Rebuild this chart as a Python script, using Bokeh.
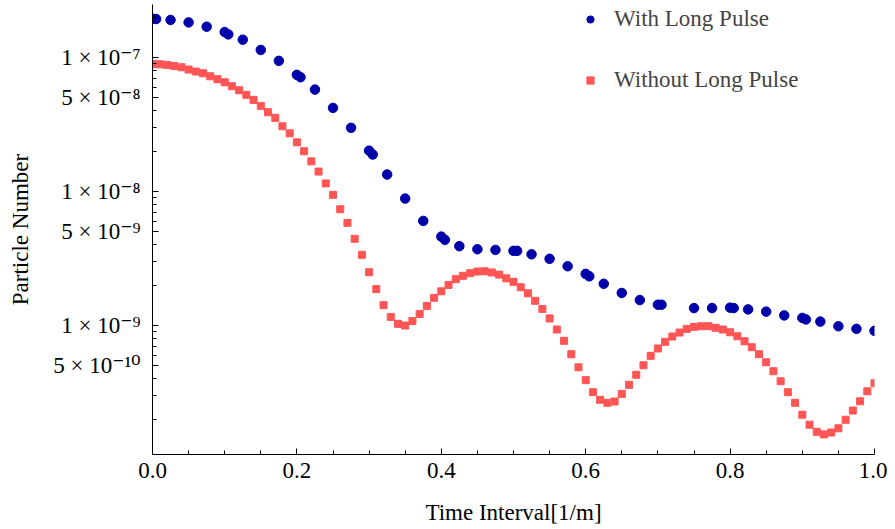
from bokeh.plotting import figure
from bokeh.models import (FixedTicker, CustomJSTickFormatter, NumeralTickFormatter,
                          Legend, LegendItem, Range1d)
from bokeh.embed import file_html
from bokeh.resources import INLINE

# ---------------- data ----------------
with_t = [0.0, 0.005, 0.025, 0.05, 0.075, 0.1, 0.105, 0.125, 0.15, 0.175,
          0.2, 0.205, 0.225, 0.25, 0.275, 0.3, 0.305, 0.325, 0.35, 0.375,
          0.4, 0.405, 0.425, 0.45, 0.475, 0.5, 0.505, 0.525, 0.55, 0.575,
          0.6, 0.605, 0.625, 0.65, 0.675, 0.7, 0.705, 0.75, 0.775,
          0.8, 0.805, 0.825, 0.85, 0.875, 0.9, 0.905, 0.925, 0.95, 0.975, 1.0]
with_n = [1.95e-7, 1.94e-7, 1.91e-7, 1.83e-7, 1.70e-7, 1.55e-7, 1.49e-7, 1.36e-7, 1.14e-7, 9.45e-8,
          7.43e-8, 7.13e-8, 5.77e-8, 4.21e-8, 2.99e-8, 2.02e-8, 1.89e-8, 1.34e-8, 8.87e-9, 6.04e-9,
          4.61e-9, 4.36e-9, 3.91e-9, 3.71e-9, 3.67e-9, 3.61e-9, 3.61e-9, 3.40e-9, 3.15e-9, 2.77e-9,
          2.43e-9, 2.33e-9, 2.05e-9, 1.75e-9, 1.55e-9, 1.43e-9, 1.43e-9, 1.35e-9, 1.35e-9,
          1.36e-9, 1.35e-9, 1.32e-9, 1.27e-9, 1.19e-9, 1.14e-9, 1.11e-9, 1.07e-9, 9.88e-10, 9.45e-10, 9.13e-10]

without_t = [0.00, 0.01, 0.02, 0.03, 0.04, 0.05, 0.06, 0.07, 0.08, 0.09,
             0.10, 0.11, 0.12, 0.13, 0.14, 0.15, 0.16, 0.17, 0.18, 0.19,
             0.20, 0.21, 0.22, 0.23, 0.24, 0.25, 0.26, 0.27, 0.28, 0.29,
             0.30, 0.31, 0.32, 0.33, 0.34, 0.35, 0.36, 0.37, 0.38, 0.39,
             0.40, 0.41, 0.42, 0.43, 0.44, 0.45, 0.46, 0.47, 0.48, 0.49,
             0.50, 0.51, 0.52, 0.53, 0.54, 0.55, 0.56, 0.57, 0.58, 0.59,
             0.60, 0.61, 0.62, 0.63, 0.64, 0.65, 0.66, 0.67, 0.68, 0.69,
             0.70, 0.71, 0.72, 0.73, 0.74, 0.75, 0.76, 0.77, 0.78, 0.79,
             0.80, 0.81, 0.82, 0.83, 0.84, 0.85, 0.86, 0.87, 0.88, 0.89,
             0.90, 0.91, 0.92, 0.93, 0.94, 0.95, 0.96, 0.97, 0.98, 0.99, 1.00]
without_n = [8.97e-8, 8.91e-8, 8.82e-8, 8.67e-8, 8.47e-8, 8.14e-8, 7.86e-8, 7.64e-8, 7.25e-8, 6.89e-8,
             6.54e-8, 6.11e-8, 5.70e-8, 5.27e-8, 4.83e-8, 4.36e-8, 3.91e-8, 3.55e-8, 3.07e-8, 2.72e-8,
             2.33e-8, 2.00e-8, 1.68e-8, 1.41e-8, 1.15e-8, 9.45e-9, 7.38e-9, 5.84e-9, 4.44e-9, 3.37e-9,
             2.50e-9, 1.87e-9, 1.42e-9, 1.16e-9, 1.03e-9, 1.00e-9, 1.08e-9, 1.22e-9, 1.40e-9, 1.61e-9,
             1.80e-9, 2.01e-9, 2.22e-9, 2.35e-9, 2.46e-9, 2.53e-9, 2.54e-9, 2.49e-9, 2.40e-9, 2.25e-9,
             2.12e-9, 1.93e-9, 1.74e-9, 1.53e-9, 1.33e-9, 1.13e-9, 9.34e-10, 7.69e-10, 6.11e-10, 4.88e-10,
             3.91e-10, 3.18e-10, 2.79e-10, 2.65e-10, 2.71e-10, 3.09e-10, 3.61e-10, 4.29e-10, 5.05e-10, 5.94e-10,
             6.74e-10, 7.56e-10, 8.28e-10, 8.87e-10, 9.45e-10, 9.78e-10, 9.88e-10, 9.88e-10, 9.61e-10, 9.34e-10,
             8.91e-10, 8.32e-10, 7.63e-10, 6.89e-10, 6.11e-10, 5.32e-10, 4.56e-10, 3.84e-10, 3.18e-10, 2.65e-10,
             2.16e-10, 1.82e-10, 1.61e-10, 1.54e-10, 1.59e-10, 1.71e-10, 1.98e-10, 2.32e-10, 2.72e-10, 3.23e-10,
             3.71e-10]

series_names = ["With Long Pulse", "Without Long Pulse"]

x_ticks = [0.0, 0.2, 0.4, 0.6, 0.8, 1.0]
x_minor_ticks = [0.05, 0.1, 0.15, 0.25, 0.3, 0.35, 0.45, 0.5, 0.55, 0.65, 0.7, 0.75, 0.85, 0.9, 0.95]

y_ticks = [5e-10, 1e-9, 5e-9, 1e-8, 5e-8, 1e-7]
y_tick_labels = ["5 × 10⁻¹⁰", "1 × 10⁻⁹", "5 × 10⁻⁹", "1 × 10⁻⁸", "5 × 10⁻⁸", "1 × 10⁻⁷"]
y_minor_ticks = [2e-10, 3e-10, 4e-10, 6e-10, 7e-10, 8e-10, 9e-10,
                 2e-9, 3e-9, 4e-9, 6e-9, 7e-9, 8e-9, 9e-9,
                 2e-8, 3e-8, 4e-8, 6e-8, 7e-8, 8e-8, 9e-8, 2e-7]

x_label = "Time Interval[1/m]"
y_label = "Particle Number"

# ---------------- figure ----------------
FONT = "'Liberation Serif', 'DejaVu Serif', serif"
FS = "23px"

p = figure(width=887, height=527, y_axis_type="log",
           x_range=Range1d(0.0, 1.0), y_range=Range1d(1.09e-10, 2.49e-7),
           output_backend="svg", toolbar_location=None,
           min_border_left=152, min_border_right=13,
           min_border_top=4, min_border_bottom=73)
p.outline_line_color = None
p.xgrid.visible = False
p.ygrid.visible = False
p.background_fill_color = "white"
p.border_fill_color = "white"

r_with = p.scatter(with_t, with_n, marker="circle", size=9.5,
                   fill_color="#0000AA", line_color="#0000AA")
r_without = p.scatter(without_t, without_n, marker="square", size=7,
                      fill_color="#FF5555", line_color="#FF5555")

for ax in (p.xaxis[0], p.yaxis[0]):
    ax.axis_line_color = "black"
    ax.major_tick_line_color = "black"
    ax.minor_tick_line_color = "black"
    ax.major_tick_in = 6
    ax.major_tick_out = 0
    ax.minor_tick_in = 4
    ax.minor_tick_out = 0
    ax.major_label_text_font = FONT
    ax.major_label_text_font_size = FS
    ax.major_label_text_color = "black"
    ax.axis_label_text_font = FONT
    ax.axis_label_text_font_size = FS
    ax.axis_label_text_font_style = "normal"
    ax.axis_label_text_color = "black"

p.xaxis.ticker = FixedTicker(ticks=x_ticks, minor_ticks=x_minor_ticks)
p.xaxis.formatter = NumeralTickFormatter(format="0.0")
p.xaxis.axis_label = x_label
p.xaxis.major_label_standoff = 8
p.xaxis.axis_label_standoff = 19

p.yaxis.ticker = FixedTicker(ticks=y_ticks, minor_ticks=y_minor_ticks)
p.yaxis.formatter = CustomJSTickFormatter(args=dict(vals=y_ticks, labs=y_tick_labels), code="""
for (let i = 0; i < vals.length; i++) {
  if (Math.abs(Math.log10(tick) - Math.log10(vals[i])) < 1e-6) { return labs[i]; }
}
return "";
""")
p.yaxis.axis_label = y_label
p.yaxis.major_label_standoff = 12
p.yaxis.axis_label_standoff = 17

legend = Legend(items=[LegendItem(label=series_names[0], renderers=[r_with]),
                       LegendItem(label=series_names[1], renderers=[r_without])],
                location=(429, 361), padding=0, margin=0, spacing=35,
                glyph_width=18, glyph_height=18, label_standoff=15,
                label_text_font=FONT, label_text_font_size=FS,
                border_line_color=None, background_fill_alpha=0)
p.add_layout(legend)

open("out.html", "w").write(file_html(p, INLINE))
